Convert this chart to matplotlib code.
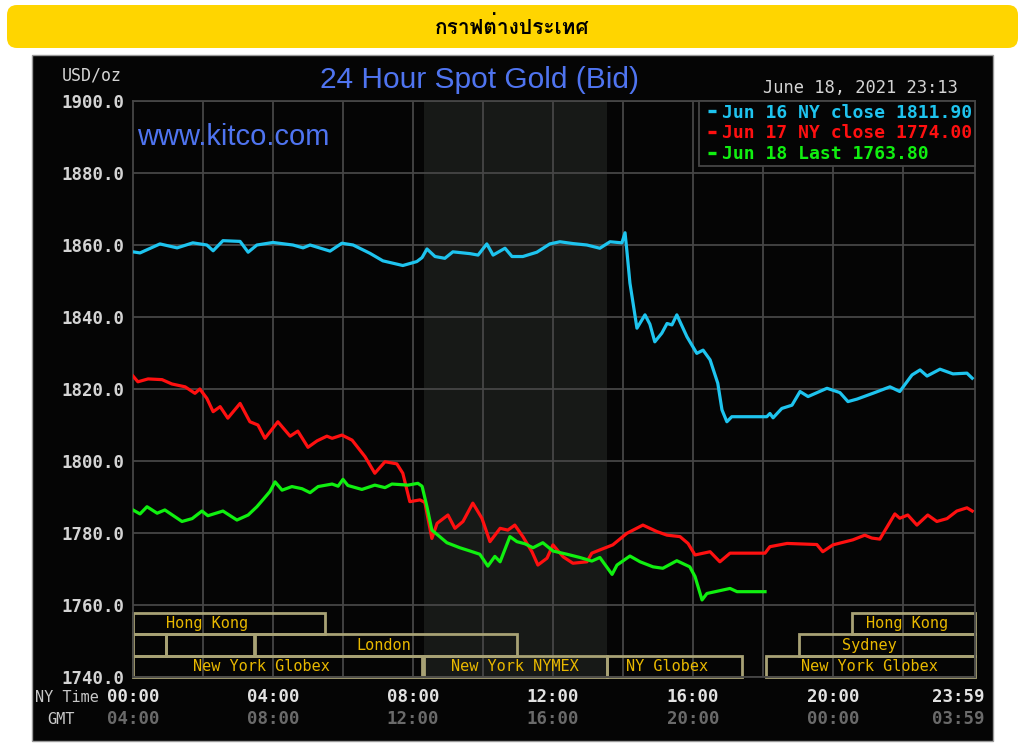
import numpy as np
import matplotlib
matplotlib.use("Agg")
import matplotlib.pyplot as plt
from matplotlib.patches import Rectangle, FancyBboxPatch
from matplotlib.lines import Line2D
from matplotlib import transforms, font_manager
from matplotlib.font_manager import FontProperties
from matplotlib.ft2font import FT2Font

# ---------------- data ----------------
title = "24 Hour Spot Gold (Bid)"
banner_text = "กราฟต่างประเทศ"
site_text = "www.kitco.com"
unit_text = "USD/oz"
stamp_text = "June 18, 2021 23:13"

series_names = ["Jun 16 NY close", "Jun 17 NY close", "Jun 18 Last"]
series_last = [1811.90, 1774.00, 1763.80]
series_colors = ["#1ec4ef", "#ff1010", "#10f010"]

jun16_h = [0.0, 0.2, 0.77, 1.26, 1.71, 2.11, 2.29, 2.57, 3.06, 3.29, 3.54, 4.0, 4.57, 4.86,
           5.06, 5.63, 5.97, 6.29, 6.77, 7.14, 7.71, 8.11, 8.26, 8.4, 8.63, 8.91, 9.14, 9.63,
           9.86, 10.11, 10.29, 10.63, 10.83, 11.14, 11.54, 11.91, 12.2, 12.57, 12.97, 13.34,
           13.63, 13.97, 14.06, 14.11, 14.2, 14.29, 14.4, 14.63, 14.77, 14.91, 15.11, 15.26,
           15.4, 15.54, 15.83, 16.11, 16.29, 16.49, 16.71, 16.83, 16.97, 17.11, 18.11, 18.2,
           18.29, 18.54, 18.83, 19.06, 19.29, 19.83, 20.2, 20.43, 20.69, 21.14, 21.63, 21.91,
           22.26, 22.49, 22.69, 23.06, 23.43, 23.83, 23.98]
jun16_v = [1858.1, 1857.8, 1860.3, 1859.2, 1860.6, 1860.0, 1858.4, 1861.2, 1861.0, 1858.0,
           1860.0, 1860.7, 1860.0, 1859.2, 1860.0, 1858.3, 1860.5, 1860.0, 1857.7, 1855.6,
           1854.3, 1855.4, 1856.5, 1858.9, 1856.8, 1856.3, 1858.1, 1857.6, 1857.2, 1860.3,
           1857.2, 1859.1, 1856.8, 1856.8, 1858.0, 1860.3, 1860.9, 1860.4, 1860.0, 1859.1,
           1860.9, 1860.6, 1863.4, 1858.6, 1849.4, 1843.8, 1836.9, 1840.6, 1838.0, 1833.1,
           1835.5, 1838.2, 1837.8, 1840.6, 1834.5, 1829.9, 1830.8, 1828.1, 1821.6, 1814.2,
           1810.9, 1812.3, 1812.3, 1813.2, 1812.0, 1814.6, 1815.5, 1819.3, 1817.9, 1820.2,
           1819.0, 1816.5, 1817.2, 1818.8, 1820.6, 1819.3, 1823.9, 1825.3, 1823.6, 1825.5,
           1824.2, 1824.4, 1823.0]

jun17_h = [0.0, 0.14, 0.43, 0.83, 1.11, 1.49, 1.77, 1.91, 2.11, 2.29, 2.49, 2.71, 3.06, 3.34,
           3.57, 3.77, 4.14, 4.49, 4.71, 5.0, 5.26, 5.54, 5.69, 5.97, 6.26, 6.63, 6.91, 7.2,
           7.54, 7.71, 7.91, 8.2, 8.34, 8.54, 8.69, 9.0, 9.2, 9.43, 9.71, 9.97, 10.2, 10.49,
           10.71, 10.91, 11.14, 11.4, 11.57, 11.83, 12.0, 12.29, 12.57, 12.97, 13.11, 13.34,
           13.71, 14.11, 14.57, 14.97, 15.26, 15.63, 15.86, 16.06, 16.49, 16.77, 17.06, 18.06,
           18.2, 18.69, 19.54, 19.71, 20.0, 20.57, 20.91, 21.11, 21.34, 21.77, 21.91, 22.14,
           22.4, 22.71, 22.97, 23.26, 23.54, 23.83, 23.98]
jun17_v = [1823.6, 1822.0, 1822.8, 1822.6, 1821.4, 1820.6, 1818.8, 1820.0, 1817.4, 1813.7,
           1815.1, 1811.9, 1816.0, 1810.9, 1810.0, 1806.3, 1810.9, 1806.9, 1808.3, 1803.8,
           1805.6, 1806.9, 1806.3, 1807.2, 1805.8, 1801.2, 1796.6, 1799.8, 1799.2, 1796.6,
           1788.7, 1789.2, 1788.5, 1778.5, 1782.7, 1785.0, 1781.3, 1783.2, 1788.3, 1784.1,
           1777.6, 1781.3, 1780.8, 1782.2, 1779.0, 1774.8, 1771.1, 1773.0, 1776.7, 1773.4,
           1771.6, 1772.0, 1774.4, 1775.3, 1776.7, 1779.9, 1782.2, 1780.4, 1779.4, 1779.0,
           1777.1, 1773.9, 1774.8, 1772.0, 1774.4, 1774.4, 1776.2, 1777.1, 1776.8, 1774.8,
           1776.7, 1778.1, 1779.4, 1778.6, 1778.3, 1785.3, 1784.1, 1785.0, 1782.2, 1785.0,
           1783.2, 1784.0, 1786.1, 1787.0, 1786.1]

jun18_h = [0.0, 0.2, 0.4, 0.69, 0.91, 1.4, 1.69, 1.97, 2.14, 2.57, 2.97, 3.29, 3.54, 3.77,
           3.91, 4.06, 4.26, 4.54, 4.83, 5.06, 5.29, 5.69, 5.86, 6.0, 6.14, 6.54, 6.91, 7.2,
           7.4, 7.86, 8.14, 8.26, 8.4, 8.54, 8.69, 8.97, 9.34, 9.63, 9.91, 10.14, 10.34, 10.49,
           10.77, 10.97, 11.2, 11.43, 11.71, 12.0, 12.4, 12.77, 13.11, 13.34, 13.69, 13.83,
           14.2, 14.49, 14.86, 15.14, 15.54, 15.91, 16.06, 16.26, 16.4, 17.06, 17.26, 18.06]
jun18_v = [1786.4, 1785.3, 1787.3, 1785.5, 1786.4, 1783.2, 1784.0, 1786.1, 1784.8, 1786.1,
           1783.6, 1785.0, 1787.3, 1789.9, 1791.5, 1794.2, 1791.9, 1792.9, 1792.3, 1791.2,
           1792.9, 1793.6, 1793.0, 1794.9, 1793.2, 1792.1, 1793.3, 1792.6, 1793.6, 1793.3,
           1793.8, 1793.0, 1787.3, 1780.8, 1779.6, 1777.3, 1775.9, 1775.0, 1774.1, 1770.8,
           1773.5, 1772.0, 1779.0, 1777.6, 1777.0, 1775.9, 1777.3, 1775.0, 1774.1, 1773.2,
           1772.2, 1773.2, 1768.5, 1771.1, 1773.6, 1772.0, 1770.6, 1770.2, 1772.3, 1770.6,
           1767.9, 1761.4, 1763.2, 1764.6, 1763.7, 1763.7]

y_ticks = [1740, 1760, 1780, 1800, 1820, 1840, 1860, 1880, 1900]
x_ticks = [0, 4, 8, 12, 16, 20, 23.983]
ny_labels = ["00:00", "04:00", "08:00", "12:00", "16:00", "20:00", "23:59"]
gmt_labels = ["04:00", "08:00", "12:00", "16:00", "20:00", "00:00", "03:59"]

nymex_span = (8.31, 13.54)

# session rows (0 top, 2 bottom): start, end, label, label centre
sess_row = [0, 0, 1, 1, 1, 1, 2, 2, 2, 2]
sess_start = [0.0, 20.54, 0.0, 0.94, 3.49, 19.03, 0.0, 8.31, 13.54, 18.09]
sess_end = [5.49, 24.06, 0.94, 3.46, 10.97, 24.06, 8.27, 13.54, 17.4, 24.06]
sess_label = ["Hong Kong", "Hong Kong", "", "", "London", "Sydney",
              "New York Globex", "New York NYMEX", "NY Globex", "New York Globex"]
sess_label_x = [2.11, 22.11, 0, 0, 7.17, 21.03, 3.66, 10.91, 15.26, 21.03]
row_edges = [1757.8, 1751.9, 1745.7, 1740.0]

# ---------------- fonts ----------------
def has_font(name):
    try:
        font_manager.findfont(FontProperties(family=name), fallback_to_default=False)
        return True
    except Exception:
        return False

thai_family = None
for fe in font_manager.fontManager.ttflist:
    try:
        if ord("ก") in FT2Font(fe.fname).get_charmap():
            thai_family = fe.name
            break
    except Exception:
        pass
banner_fam = [thai_family, "DejaVu Sans"] if thai_family else ["DejaVu Sans"]

if has_font("Liberation Sans Narrow"):
    title_fam, title_size = "Liberation Sans Narrow", 26
else:
    title_fam, title_size = "Liberation Sans", 21.5

MONO = "DejaVu Sans Mono"

# ---------------- figure ----------------
W, H = 1024, 745
fig = plt.figure(figsize=(W / 100, H / 100), dpi=100)
fig.patch.set_facecolor("white")
ident = transforms.IdentityTransform()

# yellow banner
fig.add_artist(FancyBboxPatch((7, H - 48), 1011, 43,
                              boxstyle="round,pad=0,rounding_size=10",
                              transform=ident, facecolor="#ffd500", edgecolor="none",
                              zorder=-10))
fig.text(512 / W, 1 - 27 / H, banner_text, ha="center", va="center", fontsize=15,
         fontweight="bold", color="black", family=banner_fam)

# black panel
fig.add_artist(Rectangle((32, H - 741), 961, 686, transform=ident,
                         facecolor="#050505", edgecolor="#9a9a9a", lw=1, zorder=-10))

ax = fig.add_axes([133 / W, 1 - 677 / H, (975 - 133) / W, (677 - 101) / H])
ax.set_facecolor("#050505")
ax.set_xlim(0, 24.06)
ax.set_ylim(1740, 1900)

ax.axvspan(*nymex_span, color="#171917", zorder=0, lw=0)
grid_c = "#464646"
for y in y_ticks:
    ax.axhline(y, color=grid_c, lw=1.3, zorder=1)
for x in range(2, 24, 2):
    ax.axvline(x, color=grid_c, lw=1.3, zorder=1)
for s in ax.spines.values():
    s.set_color(grid_c)
    s.set_linewidth(1.3)

# session boxes
box_c = "#a8a275"
txt_c = "#e8b800"
for r, s0, s1, lab, lx in zip(sess_row, sess_start, sess_end, sess_label, sess_label_x):
    top, bot = row_edges[r], row_edges[r + 1]
    ax.add_patch(Rectangle((s0, bot), s1 - s0, top - bot, facecolor="none",
                           edgecolor=box_c, lw=2, zorder=2, clip_on=False))
    if lab:
        ax.text(lx, (top + bot) / 2, lab, color=txt_c, ha="center", va="center",
                fontsize=11, family=MONO, zorder=3)

# price lines
lines = []
for hh, vv, c in zip([jun16_h, jun17_h, jun18_h], [jun16_v, jun17_v, jun18_v], series_colors):
    ln, = ax.plot(hh, vv, color=c, lw=2.3, zorder=4, solid_joinstyle="round")
    lines.append(ln)

labels = [f"{n} {v:.2f}" for n, v in zip(series_names, series_last)]
proxies = [Line2D([], [], linestyle="none", marker="_", markersize=5.5,
                  markeredgewidth=2.4, color=c) for c in series_colors]
leg = ax.legend(proxies, labels, loc="upper right", bbox_to_anchor=(1, 1), borderaxespad=0,
                frameon=True, fancybox=False, facecolor="#050505", edgecolor=grid_c,
                framealpha=1, labelcolor=series_colors, handlelength=1.14, handletextpad=0.0,
                labelspacing=0.16, borderpad=0.14,
                prop=FontProperties(family=MONO, weight="bold", size=13))
leg.set_zorder(6)
leg.get_frame().set_linewidth(1.3)

# y ticks
ax.set_yticks(y_ticks)
ax.set_yticklabels([f"{v:.1f}" for v in y_ticks])
ax.tick_params(axis="y", length=0, pad=6, labelcolor="#d4d4d4", labelsize=12.5)
for t in ax.get_yticklabels():
    t.set_fontfamily(MONO)
    t.set_fontweight("bold")
ax.set_xticks([])

# x time rows
blend = transforms.blended_transform_factory(ax.transData, ax.transAxes)
for i, (xt, nl, gl) in enumerate(zip(x_ticks, ny_labels, gmt_labels)):
    tr = blend
    if i == len(x_ticks) - 1:
        tr = blend + transforms.ScaledTranslation(-0.145, 0, fig.dpi_scale_trans)
    ax.text(xt, -20 / 576, nl, transform=tr, ha="center", va="center", color="#e2e2e2",
            fontsize=12.5, family=MONO, fontweight="bold")
    ax.text(xt, -42 / 576, gl, transform=tr, ha="center", va="center", color="#6a6a6a",
            fontsize=12.5, family=MONO, fontweight="bold")

fig.text(35 / W, 1 - 697 / H, "NY Time", ha="left", va="center", color="#c8c8c8",
         fontsize=11, family=MONO)
fig.text(61 / W, 1 - 719 / H, "GMT", ha="center", va="center", color="#c8c8c8",
         fontsize=11, family=MONO)

# header texts
fig.text(62 / W, 1 - 75 / H, unit_text, ha="left", va="center", color="#d4d4d4",
         fontsize=12, family=MONO)
fig.text(480 / W, 1 - 80 / H, title, ha="center", va="center", color="#4f74f0",
         fontsize=title_size, family=title_fam)
fig.text(958 / W, 1 - 88 / H, stamp_text, ha="right", va="center", color="#d4d4d4",
         fontsize=12.3, family=MONO)
fig.text(137 / W, 1 - 137 / H, site_text, ha="left", va="center", color="#4f74f0",
         fontsize=21, family="Liberation Sans", zorder=5)

fig.savefig("out.png", dpi=100, facecolor="white")
